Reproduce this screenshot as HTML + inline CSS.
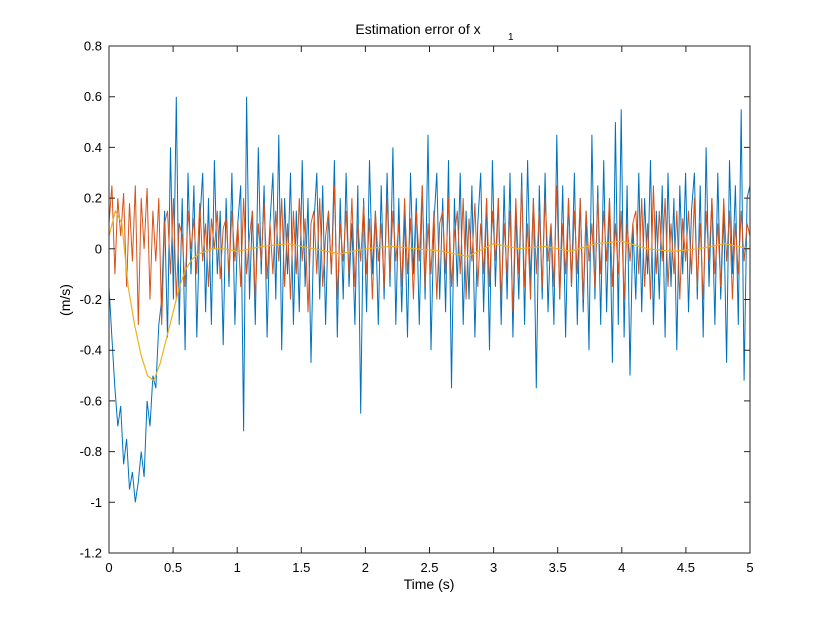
<!DOCTYPE html>
<html><head><meta charset="utf-8"><style>
body{margin:0;background:#fff}
svg{display:block;font-family:"Liberation Sans",sans-serif}
</style></head><body>
<svg id="chart" width="830" height="624" viewBox="0 0 830 624" xmlns="http://www.w3.org/2000/svg">
<rect width="830" height="624" fill="#fff"/>
<text x="418" y="34" font-size="14" text-anchor="middle">Estimation error of x</text>
<text x="508" y="40" font-size="10">1</text>
<text x="429" y="589" font-size="14" text-anchor="middle">Time (s)</text>
<text transform="translate(70,300) rotate(-90)" font-size="14" text-anchor="middle">(m/s)</text>
<g id="plot"></g>
<g id="axes"></g>
</svg>
<script>
const xTicks=[0,0.5,1,1.5,2,2.5,3,3.5,4,4.5,5];
const yTicks=[-1.2,-1,-0.8,-0.6,-0.4,-0.2,0,0.2,0.4,0.6,0.8];
const blueValues=[-0.15,-0.35,-0.55,-0.7,-0.62,-0.85,-0.75,-0.95,-0.88,-1.0,-0.92,-0.8,-0.9,-0.6,-0.7,-0.5,-0.55,-0.3,-0.2,
0.15,-0.35,0.4,-0.2,0.6,-0.3,0.2,-0.4,0.3,-0.1,0.25,-0.35,0.1,0.3,-0.25,0.2,-0.3,0.35,-0.1,0.15,-0.38,
0.2,-0.15,0.3,-0.3,0.1,0.25,-0.72,0.6,-0.2,0.15,-0.3,0.4,-0.1,0.25,-0.35,0.1,0.3,-0.2,0.45,-0.4,
0.2,-0.1,0.3,-0.3,0.15,-0.25,0.35,-0.15,0.2,-0.45,0.1,0.3,-0.2,0.25,-0.3,0.15,-0.1,0.35,-0.35,0.2,
-0.2,0.3,-0.15,0.1,-0.3,0.25,-0.65,0.2,-0.25,0.35,-0.1,0.15,-0.3,0.25,-0.2,0.3,-0.15,0.4,-0.3,0.2,
-0.25,0.15,-0.35,0.3,-0.1,0.2,-0.3,0.25,-0.2,0.45,-0.4,0.1,0.3,-0.2,0.2,-0.25,0.35,-0.55,0.2,-0.15,
0.3,-0.3,0.15,-0.2,0.25,-0.35,0.1,0.3,-0.25,0.2,-0.4,0.35,-0.15,0.2,-0.3,0.25,-0.2,0.3,-0.35,0.15,
-0.2,0.3,-0.3,0.35,-0.15,0.2,-0.55,0.25,-0.2,0.3,-0.25,0.1,-0.3,0.45,-0.2,0.25,-0.35,0.2,-0.15,0.3,
-0.3,0.2,-0.25,0.15,-0.4,0.45,-0.2,0.25,-0.3,0.35,-0.25,0.2,-0.45,0.5,-0.3,0.55,-0.35,0.25,-0.5,0.1,
-0.2,0.3,-0.25,0.2,-0.1,0.35,-0.3,0.15,-0.2,0.25,-0.35,0.3,-0.15,0.2,-0.4,0.25,-0.1,0.3,-0.25,0.15,
0.3,-0.2,0.25,-0.35,0.4,-0.15,0.2,-0.3,0.3,-0.2,0.15,-0.45,0.35,-0.1,0.25,-0.3,0.55,-0.52,0.2,0.25];
const orangeValues=[0.1,0.25,-0.1,0.2,0.05,0.22,-0.15,0.18,-0.05,0.25,-0.3,0.2,0.0,0.24,-0.2,0.15,-0.05,0.2,-0.3,0.1,
0.15,-0.1,0.2,-0.2,0.1,0.05,-0.15,0.15,0.0,0.12,-0.1,0.18,-0.05,0.1,-0.15,0.12,0.0,0.15,-0.12,0.08,
0.12,-0.1,0.15,-0.05,0.1,-0.15,0.2,-0.1,0.05,0.15,-0.2,0.1,-0.05,0.18,-0.12,0.1,-0.1,0.15,-0.05,0.2,
-0.15,0.1,-0.2,0.15,-0.1,0.2,-0.05,0.12,-0.25,0.1,0.15,-0.1,0.2,-0.15,0.05,0.15,-0.1,0.25,-0.2,0.1,
-0.05,0.15,-0.1,0.2,-0.15,0.1,-0.05,0.18,-0.1,0.12,-0.2,0.15,-0.05,0.1,-0.15,0.2,-0.1,0.15,-0.05,0.1,
-0.15,0.2,-0.1,0.12,-0.2,0.15,-0.05,0.25,-0.15,0.1,-0.1,0.15,-0.2,0.1,0.15,-0.1,0.2,-0.15,0.05,0.15,
-0.1,0.2,-0.2,0.12,-0.05,0.18,-0.15,0.1,-0.1,0.2,-0.15,0.15,-0.05,0.2,-0.2,0.1,-0.1,0.15,-0.25,0.2,
-0.1,0.25,-0.15,0.1,-0.2,0.2,-0.1,0.15,-0.15,0.2,-0.05,0.1,-0.15,0.25,-0.2,0.1,-0.1,0.2,-0.15,0.15,
-0.1,0.2,-0.2,0.15,-0.05,0.1,-0.15,0.2,-0.1,0.15,-0.05,0.2,-0.15,0.1,-0.1,0.15,-0.2,0.1,-0.05,0.1,
0.15,-0.1,0.2,-0.15,0.1,-0.2,0.25,-0.1,0.15,-0.05,0.2,-0.15,0.1,-0.1,0.15,-0.2,0.12,-0.05,0.15,-0.1,
0.2,-0.15,0.1,-0.2,0.15,-0.05,0.2,-0.1,0.1,-0.15,0.2,-0.05,0.15,-0.2,0.1,-0.1,0.15,-0.05,0.1,0.05];
const yellowTimes=[0,0.05,0.1,0.15,0.2,0.25,0.3,0.35,0.4,0.45,0.5,0.55,0.6,0.65,0.7,0.8,0.9,1.0,1.2,1.4,1.6,1.8,2.0,2.2,2.4,2.6,2.8,3.0,3.2,3.4,3.6,3.8,4.0,4.2,4.4,4.6,4.8,5.0];
const yellowValues=[0.05,0.15,0.1,-0.15,-0.3,-0.42,-0.5,-0.52,-0.45,-0.35,-0.25,-0.15,-0.08,-0.04,-0.02,0.0,0.0,-0.01,0.01,0.02,0.0,-0.02,0.0,0.01,0.0,-0.01,-0.03,0.02,0.0,0.01,-0.01,0.02,0.03,0.0,-0.01,0.0,0.02,0.0];

const X0=109,X1=750,Y0=46,Y1=553;
const xs=t=>X0+(t-0)/(5-0)*(X1-X0);
const ys=v=>Y1-(v+1.2)/(2.0)*(Y1-Y0);
const NS="http://www.w3.org/2000/svg";
const plot=document.getElementById('plot'),axes=document.getElementById('axes');
function line(pts,color,name,w){
  const p=document.createElementNS(NS,'polyline');
  p.setAttribute('points',pts.map(q=>xs(q[0]).toFixed(1)+','+ys(q[1]).toFixed(1)).join(' '));
  p.setAttribute('fill','none');p.setAttribute('stroke',color);p.setAttribute('stroke-width',w);
  p.setAttribute('stroke-linejoin','bevel');
  
  
  plot.appendChild(p);
}
const blueStep=5/(blueValues.length-1);
const orangeStep=5/(orangeValues.length-1);
line(blueValues.map((v,i)=>[i*blueStep,v]),'#0072bd','series-blue',1);
line(orangeValues.map((v,i)=>[i*orangeStep,v]),'#d95319','series-orange',1);
line(yellowTimes.map((t,i)=>[t,yellowValues[i]]),'#edb120','series-yellow',1.2);
const box=document.createElementNS(NS,'rect');
box.setAttribute('x',X0);box.setAttribute('y',Y0);box.setAttribute('width',X1-X0);box.setAttribute('height',Y1-Y0);
box.setAttribute('fill','none');box.setAttribute('stroke','#262626');box.setAttribute('stroke-width','1');


axes.appendChild(box);
xTicks.forEach(t=>{
  const x=xs(t);
  const l=document.createElementNS(NS,'path');
  l.setAttribute('d',`M${x},${Y1}v-6M${x},${Y0}v6`);l.setAttribute('stroke','#262626');
  
  
  axes.appendChild(l);
  const tx=document.createElementNS(NS,'text');
  tx.setAttribute('x',x);tx.setAttribute('y',Y1+19);tx.setAttribute('font-size','13');tx.setAttribute('text-anchor','middle');
  tx.textContent=String(t);
  
  
  axes.appendChild(tx);
});
yTicks.forEach(v=>{
  const y=ys(v);
  const l=document.createElementNS(NS,'path');
  l.setAttribute('d',`M${X0},${y}h6M${X1},${y}h-6`);l.setAttribute('stroke','#262626');
  
  
  axes.appendChild(l);
  const tx=document.createElementNS(NS,'text');
  tx.setAttribute('x',X0-7);tx.setAttribute('y',y+4.5);tx.setAttribute('font-size','13');tx.setAttribute('text-anchor','end');
  tx.textContent=String(v);
  
  
  axes.appendChild(tx);
});
</script>
</body></html>
